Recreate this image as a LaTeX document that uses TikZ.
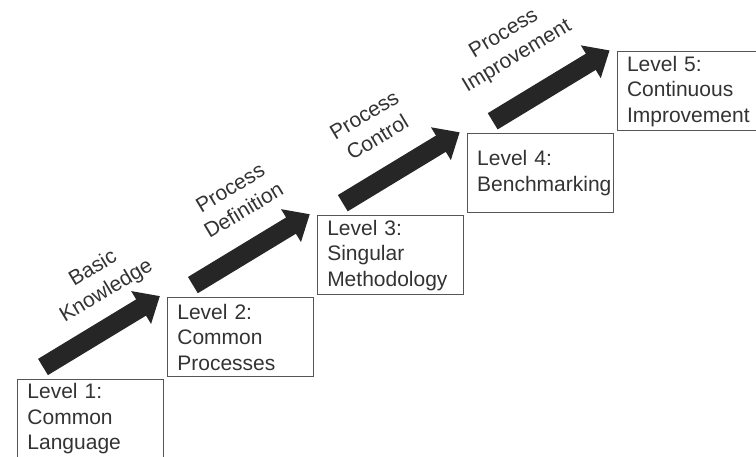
\documentclass[tikz,border=0pt]{standalone}
\usepackage{fontspec}
\setmainfont{Liberation Sans}
\usetikzlibrary{arrows.meta}
\definecolor{txtgray}{HTML}{333333}
\definecolor{boxgray}{HTML}{555555}
\definecolor{arrgray}{HTML}{262626}
\begin{document}
\begin{tikzpicture}[x=1pt,y=1pt,
	level/.style={draw=boxgray,line width=0.9pt,text=txtgray,align=left,text width=126pt,minimum height=79pt,inner xsep=10pt,inner ysep=2pt,font=\fontsize{21}{25.5}\selectfont,anchor=south west},
	stair/.style={arrgray,line width=19pt,-{Triangle[width=37pt,length=22pt]}},
	lab/.style={text=txtgray,align=center,font=\fontsize{21}{26}\selectfont,inner sep=0pt,rotate=31}]
	\useasboundingbox (0,0) rectangle (756,457);%ĐỊNH KHUNG
	\node[level,anchor=north west] (l1) at (17,78) {Level 1:\\Common\\Language};
	\node[level] (l2) at ([shift={(3,2)}]l1.north east) {Level 2:\\Common\\Processes};
	\node[level] (l3) at ([shift={(3,2)}]l2.north east) {Level 3:\\Singular\\Methodology};
	\node[level] (l4) at ([shift={(3,2)}]l3.north east) {Level 4:\\Benchmarking};
	\node[level,text width=120pt] (l5) at ([shift={(3,2)}]l4.north east) {Level 5:\\Continuous\\Improvement};
	\draw[stair] ([shift={(26,12)}]l1.north west)--([shift={(-7,1)}]l2.north west);
	\draw[stair] ([shift={(26,12)}]l2.north west)--([shift={(-7,1)}]l3.north west);
	\draw[stair] ([shift={(26,12)}]l3.north west)--([shift={(-7,1)}]l4.north west);
	\draw[stair] ([shift={(26,12)}]l4.north west)--([shift={(-7,1)}]l5.north west);
	\node[lab] (t1) at ([shift={(83,99)}]l1.north west) {Basic\\Knowledge};
	\node[lab] (t2) at ([shift={(70,98)}]l2.north west) {Process\\Definition};
	\node[lab] (t3) at ([shift={(54,89)}]l3.north west) {Process\\Control};
	\node[lab] (t4) at ([shift={(44,88)}]l4.north west) {Process\\Improvement};
\end{tikzpicture}
\end{document}
